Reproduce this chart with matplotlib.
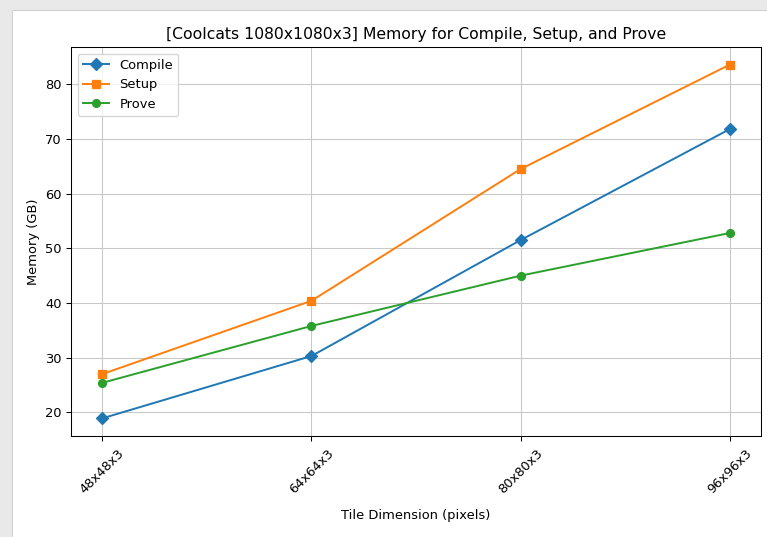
import matplotlib

matplotlib.use("Agg")
import matplotlib.pyplot as plt
from matplotlib.patches import Rectangle

tiles = ["48x48x3", "64x64x3", "80x80x3", "96x96x3"]
compile_gb = [18.9, 30.3, 51.5, 71.8]
setup_gb = [27.0, 40.4, 64.5, 83.6]
prove_gb = [25.4, 35.8, 45.0, 52.8]

DPI = 94
W, H = 767, 537
fig = plt.figure(figsize=(W / DPI, H / DPI), dpi=DPI, facecolor="#e9e9e9")
# white page inside the screenshot's grey frame
page = Rectangle((12 / W, 0), 1, 1 - 10 / H, transform=fig.transFigure,
                 facecolor="white", edgecolor="#d0d0d0", lw=0.8, zorder=-10)
fig.add_artist(page)

ax = fig.add_axes([71 / W, 1 - 436 / H, (761 - 71) / W, (436 - 47) / H])
ax.plot(tiles, compile_gb, marker="D", label="Compile")
ax.plot(tiles, setup_gb, marker="s", label="Setup")
ax.plot(tiles, prove_gb, marker="o", label="Prove")

ax.set_title("[Coolcats 1080x1080x3] Memory for Compile, Setup, and Prove")
ax.set_xlabel("Tile Dimension (pixels)", labelpad=10)
ax.set_ylabel("Memory (GB)")
ax.tick_params(axis="x", rotation=45, pad=5)
ax.grid(True, color="#c8c8c8")
ax.legend(loc="upper left")

fig.savefig("out.png", dpi=DPI, facecolor=fig.get_facecolor())
